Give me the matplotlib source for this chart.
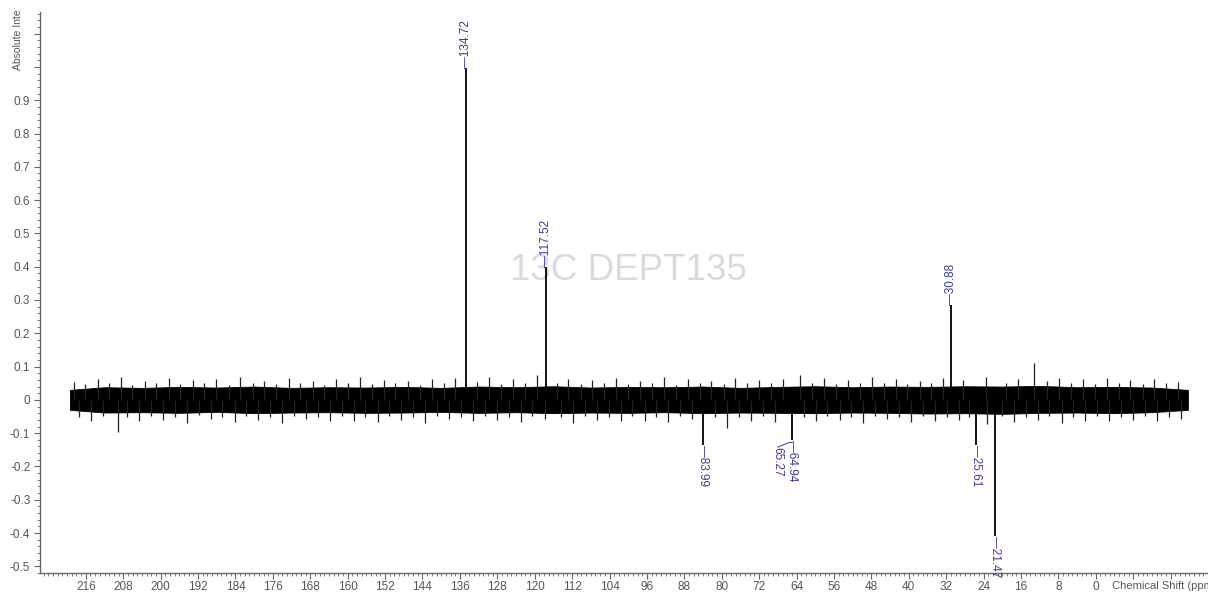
import matplotlib.pyplot as plt
from matplotlib.ticker import MultipleLocator, FixedLocator

plt.rcParams['font.family'] = ['Liberation Sans', 'DejaVu Sans']
plt.rcParams['axes.unicode_minus'] = False

# peaks (ppm, intensity)
peak_ppm = [134.72, 117.52, 30.88, 83.99, 64.94, 25.61, 21.47]
peak_int = [0.997, 0.40, 0.285, -0.135, -0.12, -0.135, -0.41]
peak_labels = ["134.72", "117.52", "30.88", "83.99", "64.94", "25.61", "21.47"]

# second label at the 64.94 cluster (shoulder peak hidden in the noise)
shoulder_ppm = 65.27
shoulder_label = "65.27"

# solid core of the baseline noise, read every 8 ppm
band_ppm = [219.4, 212, 204, 196, 188, 180, 172, 164, 156, 148, 140, 132, 124,
            116, 108, 100, 92, 84, 76, 68, 60, 52, 44, 36, 28, 20, 12, 4, -4,
            -12, -19.7]
band_hi = [0.030, 0.038, 0.036, 0.039, 0.037, 0.040, 0.036, 0.038, 0.037, 0.039,
           0.036, 0.040, 0.038, 0.041, 0.037, 0.039, 0.038, 0.040, 0.036, 0.039,
           0.041, 0.038, 0.040, 0.039, 0.041, 0.040, 0.042, 0.038, 0.039, 0.037,
           0.030]
band_lo = [-0.030, -0.038, -0.037, -0.039, -0.036, -0.040, -0.038, -0.037, -0.039,
           -0.038, -0.036, -0.039, -0.037, -0.040, -0.038, -0.039, -0.037, -0.040,
           -0.038, -0.039, -0.040, -0.038, -0.039, -0.041, -0.040, -0.042, -0.039,
           -0.038, -0.040, -0.037, -0.030]

# noise spikes sticking out of the core (ppm, intensity)
spikes_up = [(218.6, 0.055), (216.2, 0.048), (213.5, 0.062), (211.0, 0.050),
             (208.4, 0.068), (206.1, 0.045), (203.3, 0.058), (200.9, 0.052),
             (198.2, 0.066), (195.8, 0.047), (193.0, 0.060), (190.7, 0.050),
             (188.1, 0.064), (185.4, 0.046), (183.0, 0.070), (180.2, 0.052),
             (177.9, 0.058), (175.3, 0.048), (172.6, 0.066), (170.2, 0.050),
             (167.5, 0.056), (165.1, 0.045), (162.4, 0.062), (160.0, 0.050),
             (157.3, 0.068), (154.9, 0.048), (152.2, 0.060), (149.8, 0.052),
             (147.1, 0.057), (144.6, 0.046), (142.0, 0.064), (139.5, 0.050),
             (137.0, 0.066), (132.4, 0.055), (129.8, 0.070), (127.2, 0.048),
             (124.7, 0.062), (122.1, 0.050), (119.6, 0.075), (115.3, 0.052),
             (112.8, 0.064), (110.2, 0.047), (107.7, 0.060), (105.1, 0.050),
             (102.6, 0.066), (100.0, 0.048), (97.5, 0.058), (94.9, 0.052),
             (92.4, 0.070), (89.8, 0.046), (87.3, 0.062), (84.7, 0.050),
             (82.2, 0.058), (79.6, 0.048), (77.1, 0.066), (74.5, 0.052),
             (72.0, 0.060), (69.4, 0.050), (66.9, 0.064), (63.2, 0.075),
             (60.7, 0.052), (58.1, 0.066), (55.6, 0.048), (53.0, 0.060),
             (50.5, 0.052), (47.9, 0.068), (45.4, 0.050), (42.8, 0.062),
             (40.3, 0.047), (37.7, 0.058), (35.2, 0.052), (32.6, 0.066),
             (28.4, 0.060), (23.5, 0.070), (19.2, 0.052), (16.6, 0.064),
             (13.2, 0.110), (10.4, 0.058), (7.9, 0.066), (5.3, 0.050),
             (2.8, 0.062), (0.2, 0.048), (-2.3, 0.066), (-4.9, 0.052),
             (-7.4, 0.060), (-10.0, 0.047), (-12.5, 0.062), (-15.1, 0.050),
             (-17.6, 0.055)]
spikes_dn = [(217.4, -0.050), (214.8, -0.062), (212.3, -0.047), (209.1, -0.095),
             (207.2, -0.052), (204.6, -0.064), (202.1, -0.048), (199.5, -0.060),
             (197.0, -0.050), (194.4, -0.068), (191.9, -0.046), (189.3, -0.058),
             (186.8, -0.052), (184.2, -0.066), (181.7, -0.048), (179.1, -0.060),
             (176.6, -0.050), (174.0, -0.070), (171.5, -0.047), (168.9, -0.058),
             (166.4, -0.052), (163.8, -0.064), (161.3, -0.048), (158.7, -0.062),
             (156.2, -0.050), (153.6, -0.066), (151.1, -0.047), (148.5, -0.060),
             (146.0, -0.052), (143.4, -0.068), (140.9, -0.048), (138.3, -0.058),
             (135.8, -0.050), (133.2, -0.064), (130.7, -0.047), (128.1, -0.060),
             (125.6, -0.052), (123.0, -0.066), (120.5, -0.048), (117.9, -0.058),
             (114.4, -0.050), (111.8, -0.068), (109.3, -0.047), (106.7, -0.060),
             (104.2, -0.052), (101.6, -0.064), (99.1, -0.048), (96.5, -0.062),
             (94.0, -0.050), (91.4, -0.066), (88.9, -0.047), (86.3, -0.058),
             (81.4, -0.052), (78.8, -0.085), (76.3, -0.050), (73.7, -0.062),
             (71.2, -0.048), (68.6, -0.066), (62.5, -0.052), (59.9, -0.064),
             (57.4, -0.047), (54.8, -0.060), (52.3, -0.050), (49.7, -0.068),
             (47.2, -0.048), (44.6, -0.058), (42.1, -0.052), (39.5, -0.066),
             (37.0, -0.047), (34.4, -0.062), (31.9, -0.050), (29.3, -0.060),
             (27.2, -0.052), (23.3, -0.072), (20.1, -0.048), (17.5, -0.066),
             (15.0, -0.052), (12.4, -0.060), (9.9, -0.048), (7.3, -0.068),
             (4.8, -0.050), (2.2, -0.062), (-0.3, -0.047), (-2.9, -0.064),
             (-5.4, -0.052), (-8.0, -0.060), (-10.5, -0.048), (-13.1, -0.062),
             (-15.6, -0.050), (-18.2, -0.056)]

x_ticks = list(range(216, -1, -8))
y_ticks = [-0.5, -0.4, -0.3, -0.2, -0.1, 0, 0.1, 0.2, 0.3, 0.4, 0.5, 0.6, 0.7, 0.8, 0.9]

grey = "#666666"
navy = "#3a3a9c"

fig = plt.figure(figsize=(12.08, 5.94), dpi=100)
ax = fig.add_axes([40 / 1208, 1 - 573 / 594, 1168 / 1208, (573 - 12) / 594])
ax.set_xlim(225.8, -24)
ax.set_ylim(-0.52, 1.165)

# noise
ax.fill_between(band_ppm, band_lo, band_hi, color="black", lw=0.6)
up_x, up_y = zip(*spikes_up)
dn_x, dn_y = zip(*spikes_dn)
ax.vlines(up_x, 0, up_y, color="#222222", lw=0.9)
ax.vlines(dn_x, 0, dn_y, color="#222222", lw=0.9)

# peaks
ax.vlines(peak_ppm, 0, peak_int, color="black", lw=1.3)

for p, v, lab in zip(peak_ppm, peak_int, peak_labels):
    if v > 0:
        ax.text(p, v, "\u2014" + lab, rotation=90, ha="center", va="bottom",
                fontsize=8.5, color=navy)
    else:
        ax.text(p, v, "\u2014" + lab, rotation=-90, ha="center", va="top",
                fontsize=8.5, color=navy)

# shoulder label with bent connector
ax.plot([64.94, 65.6, 68.0], [-0.128, -0.128, -0.142], color=navy, lw=0.7)
ax.text(68.0, -0.142, shoulder_label, rotation=-90, ha="center", va="top",
        fontsize=8.5, color=navy)

ax.text(100, 0.39, "13C DEPT135", ha="center", va="center", fontsize=26.5,
        color="#dadada", zorder=0)

# axes styling
for s in ["top", "right"]:
    ax.spines[s].set_visible(False)
for s in ["left", "bottom"]:
    ax.spines[s].set_color(grey)
    ax.spines[s].set_linewidth(1.0)

ax.xaxis.set_major_locator(FixedLocator(x_ticks + [-8, -16]))
ax.set_xticklabels([str(t) for t in x_ticks] + ["", ""])
ax.xaxis.set_minor_locator(MultipleLocator(1))
ax.yaxis.set_major_locator(FixedLocator(y_ticks + [1.0, 1.1]))
ax.set_yticklabels([f"{t:g}" for t in y_ticks] + ["", ""])
ax.yaxis.set_minor_locator(MultipleLocator(0.02))

ax.tick_params(which="major", length=4.5, width=0.8, color=grey, labelsize=8.5,
               labelcolor="#555555", pad=2.5)
ax.tick_params(axis="x", which="major", length=4, pad=1.5)
ax.tick_params(which="minor", length=2.5, width=0.6, color=grey)

ax.annotate("Chemical Shift (ppm)", xy=((1112 - 40) / 1168, 0),
            xycoords="axes fraction", xytext=(0, -5.5), textcoords="offset points",
            ha="left", va="top", fontsize=8, color="#555555", annotation_clip=False)
fig.text(18 / 1208, 1 - 70 / 594, "Absolute Inte", rotation=90, ha="center",
         va="bottom", fontsize=7.5, color="#555555")

fig.savefig("out.png", dpi=100, facecolor="white")
